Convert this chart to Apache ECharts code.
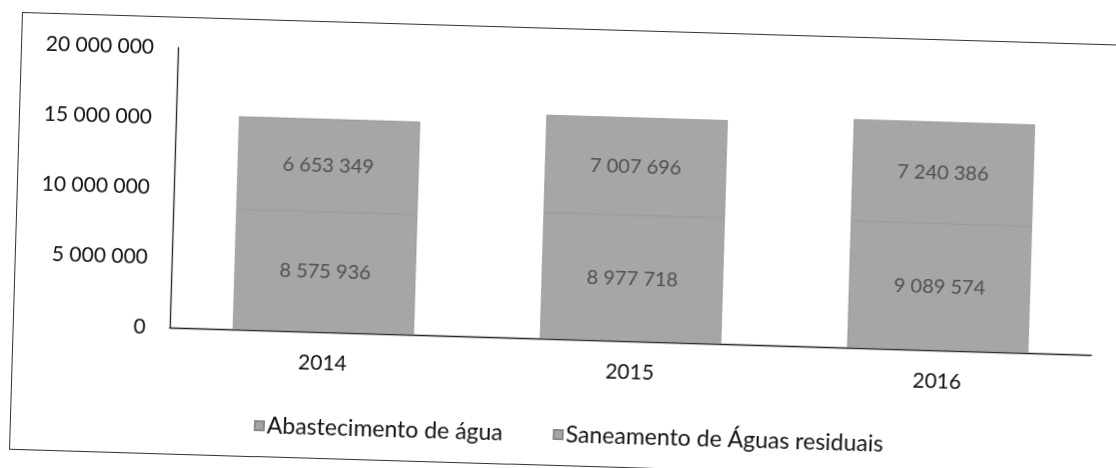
<!DOCTYPE html>
<html>
<head>
<meta charset="utf-8">
<script src="https://cdn.jsdelivr.net/npm/echarts@6/dist/echarts.min.js"></script>
<style>
  html, body { margin: 0; padding: 0; background: #fff; width: 1116px; height: 468px; overflow: hidden; }
  #frame {
    position: absolute; left: 22px; top: 12px; width: 1140px; height: 438px;
    border: 1.2px solid #333; box-sizing: border-box;
    transform-origin: 0 0; transform: rotate(1.7deg);
  }
  #chart { width: 100%; height: 100%; }
</style>
</head>
<body>
<div id="frame"><div id="chart"></div></div>
<script>
// Investimento anual por serviço
const years = ['2014', '2015', '2016'];
const abastecimento = [8575936, 8977718, 9089574];
const saneamento = [6653349, 7007696, 7240386];
const seriesNames = ['Abastecimento de água', 'Saneamento de Águas residuais'];
const yTicks = [0, 5000000, 10000000, 15000000, 20000000];

// thousands separated by spaces
function fmt(v) {
  return String(Math.round(v)).replace(/\B(?=(\d{3})+(?!\d))/g, ' ');
}

const FONT = 'Lato';
const barColor = '#a6a6a6';

const chart = echarts.init(document.getElementById('chart'), null, { renderer: 'canvas' });

const labelStyle = {
  show: true,
  position: 'inside',
  color: '#505050',
  fontFamily: FONT,
  fontSize: 20,
  formatter: p => fmt(p.value)
};

chart.setOption({
  animation: false,
  textStyle: { fontFamily: FONT },
  grid: { left: 156, right: 60, top: 30, bottom: 126 },
  legend: {
    top: 389,
    left: 238,
    itemWidth: 9,
    itemHeight: 9,
    itemGap: 50,
    icon: 'rect',
    textStyle: { fontFamily: FONT, fontSize: 23, color: '#111', padding: [0, 0, 0, -2] },
    data: seriesNames
  },
  xAxis: {
    type: 'category',
    data: years,
    axisLine: { show: true, lineStyle: { color: '#222', width: 1.3 } },
    axisTick: { show: false },
    axisLabel: { color: '#111', fontSize: 21, fontFamily: FONT, margin: 21 }
  },
  yAxis: {
    type: 'value',
    min: yTicks[0],
    max: yTicks[yTicks.length - 1],
    interval: yTicks[1] - yTicks[0],
    axisLine: { show: true, lineStyle: { color: '#222', width: 1.3 } },
    axisTick: { show: false },
    splitLine: { show: false },
    axisLabel: { color: '#111', fontSize: 21, fontFamily: FONT, margin: 24, formatter: v => fmt(v) }
  },
  series: [
    {
      name: seriesNames[0],
      type: 'bar',
      stack: 'total',
      barWidth: '59%',
      data: abastecimento,
      itemStyle: { color: barColor, borderColor: '#8a8a8a', borderWidth: 0.6 },
      label: labelStyle
    },
    {
      name: seriesNames[1],
      type: 'bar',
      stack: 'total',
      barWidth: '59%',
      data: saneamento,
      itemStyle: { color: barColor, borderColor: '#8a8a8a', borderWidth: 0.6 },
      label: labelStyle
    }
  ]
});
</script>
</body>
</html>
